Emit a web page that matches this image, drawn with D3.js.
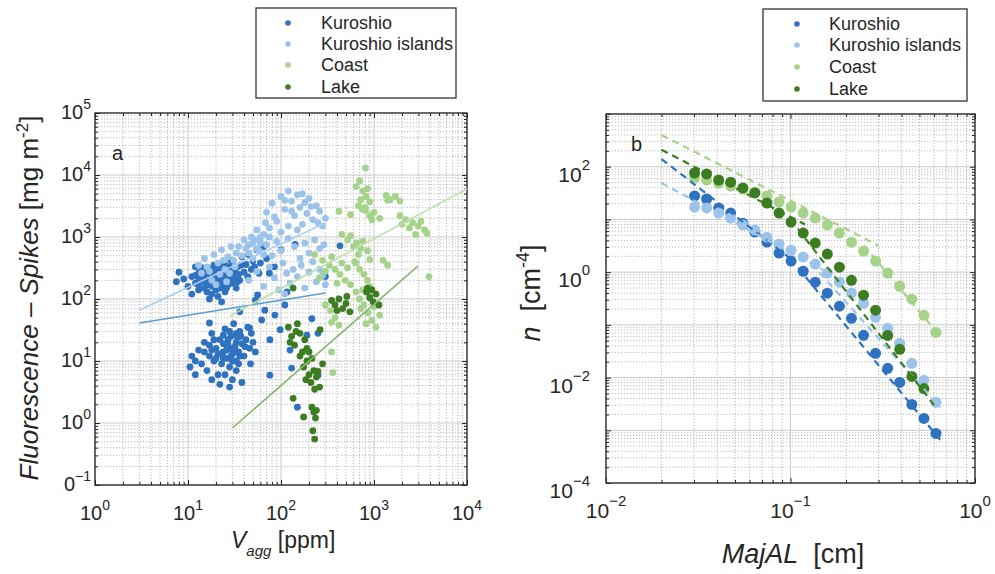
<!DOCTYPE html>
<html><head><meta charset="utf-8">
<script src="https://cdn.jsdelivr.net/npm/d3@7"></script>
<style>
body{margin:0;background:#fff;}
text{font-family:"Liberation Sans",Arial,Helvetica,sans-serif;fill:#262626;}
</style>
</head><body>
<svg id="chart" width="995" height="574"></svg>
<script>
// ---------------- data ----------------
const categories = ["Kuroshio", "Kuroshio islands", "Coast", "Lake"];
const seriesColors = ["#2f72c0", "#9cc4ea", "#a6d38a", "#3c7d22"];
const fitColorsA = ["#5a9ad6", "#a9cdee", "#bfe0a8", "#88b66c"];

// panel a : [Vagg ppm, Fluorescence - Spikes mg m-2]
const kuroshioA = [
 [11,230],[12,180],[13,260],[14,210],[15,150],[16,290],[17,200],[18,240],[19,170],[20,310],
 [21,220],[22,190],[23,270],[24,160],[25,230],[26,340],[27,200],[28,250],[30,180],[32,290],
 [14,320],[16,130],[18,120],[20,140],[22,260],[24,390],[26,150],[29,420],[31,240],[34,330],
 [36,200],[38,480],[40,270],[42,360],[45,520],[48,300],[50,410],[55,620],[60,380],[65,700],
 [9,210],[10,160],[8,270],[7.5,190],[11,120],[12,330],[13,140],[17,100],[19,350],[21,110],
 [23,90],[25,130],[27,320],[33,150],[35,250],[37,350],[44,230],[52,330],[58,260],[70,450],
 [15,260],[16,190],[17,280],[18,160],[19,250],[20,200],[21,270],[22,150],[23,210],[24,280],
 [15,220],[13,200],[14,260],[16,240],[18,300],[20,230],[22,320],[25,180],[28,300],[30,350],
 [14,230],[15,190],[16,210],[17,240],[18,210],[19,190],[20,260],[21,200],[22,230],[23,180],
 [24,240],[25,260],[26,220],[27,170],[28,210],[29,190],[30,250],[32,210],[34,190],[12,240],
 [13,170],[19,290],[21,300],[23,250],[25,200],[27,260],[29,320],[31,280],[16,170],[18,270],
 [75,260],[85,330],[100,620],[142,760],[431,720],[300,230],[116,130],
 [10.5,8],[11,12],[12,6],[13,15],[14,9],[15,20],[16,7],[17,12],[18,28],[19,10],
 [20,16],[21,6],[22,22],[23,9],[24,14],[25,33],[26,11],[27,18],[28,8],[29,25],
 [30,13],[31,40],[32,17],[33,10],[34,24],[35,14],[36,30],[38,19],[40,12],[42,22],
 [44,35],[46,16],[48,28],[50,20],[53,14],[47,9],[41,17],[18,5],[22,4.2],[25,6],
 [28,3.8],[30,5],[33,7],[38,4.5],[15,14],[17,18],[20,11],[22,13],[24,19],[26,15],
 [27,22],[29,12],[31,16],[33,20],[35,9],[37,25],[17,41],[12,10],[24,26],[28,30],
 [18,15],[21,13],[24,11],[26,18],[28,16],[30,10],[32,14],[36,12],[19,22],[33,28],
 [36,62],[53,96],[67,66],[86,55],[98,32],[76,22],[46,34],[62,46],[110,80],[56,116],
 [76,5.9],[215,48],[250,28],[190,26],[125,15],[130,7.7],[150,1.8],[250,5.9]
];
const islandsA = [
 [70,2500],[80,3500],[90,1800],[100,4500],[110,2800],[120,5500],[130,3800],[140,2200],[150,4800],[160,3000],
 [170,1600],[180,3600],[190,2400],[200,4200],[220,1900],[240,3200],[260,2600],[280,1500],[300,2000],[150,1300],
 [120,1500],[100,1200],[85,2100],[75,1400],[65,1100],[130,2600],[170,5000],[210,3100],[250,1700],[110,3900],
 [35,700],[40,900],[45,550],[50,800],[55,650],[60,1000],[70,750],[80,500],[90,850],[100,600],
 [120,950],[140,700],[160,450],[180,800],[200,550],[230,900],[260,650],[290,750],[50,450],[65,520],
 [45,200],[55,280],[65,160],[75,330],[85,220],[95,140],[105,380],[115,260],[125,180],[135,300],
 [150,230],[165,350],[180,150],[200,270],[220,400],[240,190],[260,300],[280,240],[300,170],[110,120],
 [13,350],[15,450],[17,280],[19,520],[21,380],[23,620],[25,300],[27,480],[29,700],[31,420],
 [18,200],[22,250],[26,190],[33,550],[14,260],[16,330],[20,170],[24,420],[28,260],[32,330],
 [38,500],[42,650],[48,1000],[55,1300],[60,800],[68,1700],[75,1000],[58,600],[52,900],[45,750]
];
const coastA = [
 [810,13000],[640,6500],[700,8000],[760,5500],[820,4500],[900,3700],[680,3200],[750,2800],[850,6000],[720,4000],
 [800,3000],[420,2600],[560,2300],[810,2700],[900,2200],[1000,2500],[1150,2000],[950,1900],
 [1350,4700],[1500,4000],[1700,4500],[1900,3800],[1400,3900],
 [1900,2200],[2200,1900],[2600,1700],[3000,1500],[3500,1300],[2400,1400],[2800,1100],[3200,1800],[3700,1150],[2000,1600],
 [450,1100],[520,900],[600,700],[680,520],[760,850],[850,600],[900,430],[560,1050],[650,800],[720,650],
 [230,520],[280,420],[330,350],[380,300],[430,250],[490,200],[560,170],[620,400],[350,480],[300,280],
 [260,220],[400,180],[520,320],[450,380],[640,380],[700,300],[780,250],[850,200],[900,160],[760,140],
 [3900,230],[300,80],[340,65],[380,50],[420,38],[350,42],
 [640,130],[700,100],[780,80],[860,60],[950,45],[1050,35],[1150,55],[720,70],[820,40],[900,110],[1000,75],
 [350,14],[360,6.5],[1250,420],[1400,350]
];
const lakeA = [
 [120,35],[130,25],[140,18],[150,40],[160,28],[170,14],[180,22],[190,16],[125,20],[145,30],
 [160,12],[175,8],[190,10],[200,6],[210,4.5],[225,7],[240,5.5],[260,3.8],[280,9],[185,5],
 [215,11],[250,6.8],[200,14],[230,3.5],
 [350,95],[380,80],[420,100],[460,70],[500,85],[550,62],[400,65],
 [830,130],[900,105],[980,90],[1050,120],[1130,80],[950,140],
 [215,1.8],[225,1.5],[235,1.2],[220,0.75],[230,0.55],[240,1.6],[175,1.25],[135,2.5],
 [850,150],[510,110],[135,150],[263,32]
];
const scatterA = [kuroshioA, islandsA, coastA, lakeA];

// panel a fitted lines (two end points each)
const fitsA = [
 [[3.0,41],[300,125]],
 [[3.0,66],[300,1690]],
 [[28,53],[10000,6000]],
 [[30,0.83],[2960,340]]
];

// panel b : MajAL [cm] and n [cm-4]
const majAL = [0.0302,0.0351,0.0408,0.0474,0.0552,0.0641,0.0745,0.0867,0.1007,0.1172,0.1362,
               0.1584,0.1841,0.2140,0.2488,0.2892,0.3363,0.3910,0.4546,0.5285,0.6144];
const nKuroshio = [27.9,24.4,16.5,13.2,8.5,5.76,3.72,2.30,1.62,1.04,0.645,0.399,0.226,0.133,0.0634,
                   0.0289,0.0150,0.0081,0.0031,0.00168,0.00087];
const nIslands = [17.2,16.5,13.2,10.6,7.8,6.3,4.6,3.4,2.6,1.93,1.42,0.96,0.645,0.40,0.257,0.139,
                  0.086,0.0447,0.0186,0.00885,0.0034];
const nCoast = [61,56,49,43,37.8,33,27.9,21.4,17.2,13.2,10.6,7.8,5.5,3.7,2.5,1.62,0.96,0.54,0.307,0.152,0.072];
const nLake = [76,73,56,51,39.5,31.8,20.5,13.2,8.9,5.5,3.56,2.2,1.24,0.70,0.365,0.19,0.063,0.0344,0.0105,0.0062,null];
const seriesB = [nKuroshio, nIslands, nCoast, nLake];

// panel b fitted dashed segments
const fitsB = [
 [[[0.02,140],[0.1,1.8]], [[0.1,1.8],[0.65,0.00065]]],
 [[[0.02,49],[0.15,1.1]], [[0.13,1.45],[0.65,0.0027]]],
 [[[0.02,400],[0.3,3.2]], [[0.25,3.2],[0.65,0.06]]],
 [[[0.02,210],[0.12,8]], [[0.1,10],[0.6,0.003]]]
];

const ticksA_x = [1,10,100,1000,10000];
const ticksA_y = [0.1,1,10,100,1000,10000,100000];
const ticksA_xExp = ["0","1","2","3","4"];
const ticksA_yExp = ["\u22121","0","1","2","3","4","5"];
const ticksB_x = [0.01,0.1,1];
const ticksB_xExp = ["\u22122","\u22121","0"];
const ticksB_y = [1e-4,1e-2,1,100];
const ticksB_yExp = ["\u22124","\u22122","0","2"];

// ---------------- drawing ----------------
const svg = d3.select("#chart");

function minorTicks(lo, hi) {
  const out = [];
  for (let e = Math.floor(Math.log10(lo)); e < Math.ceil(Math.log10(hi)); e++) {
    for (let k = 2; k <= 9; k++) { const v = k * Math.pow(10, e); if (v > lo && v < hi) out.push(v); }
  }
  return out;
}

function panel(opt) {
  const g = svg.append("g");
  const {x, y} = opt;
  const [x0, x1] = x.range(), [y0, y1] = y.range();
  const xd = x.domain(), yd = y.domain();
  const xMinor = minorTicks(xd[0], xd[1]), yMinor = minorTicks(yd[0], yd[1]);
  const isDec = v => Math.abs(Math.log10(v) - Math.round(Math.log10(v))) < 1e-9;
  const xMajor = x.ticks().filter(isDec);
  const yMajor = y.ticks().filter(isDec);

  const grid = g.append("g");
  grid.selectAll(".gxm").data(xMinor).join("line")
    .attr("x1", d => x(d)).attr("x2", d => x(d)).attr("y1", y0).attr("y2", y1)
    .attr("stroke", "#a8a8a8").attr("stroke-width", 0.8).attr("stroke-dasharray", "1.2,1.8");
  grid.selectAll(".gym").data(yMinor).join("line")
    .attr("y1", d => y(d)).attr("y2", d => y(d)).attr("x1", x0).attr("x2", x1)
    .attr("stroke", "#a8a8a8").attr("stroke-width", 0.8).attr("stroke-dasharray", "1.2,1.8");
  grid.selectAll(".gxM").data(xMajor).join("line")
    .attr("x1", d => x(d)).attr("x2", d => x(d)).attr("y1", y0).attr("y2", y1)
    .attr("stroke", "#c4c4c4").attr("stroke-width", 0.9);
  grid.selectAll(".gyM").data(yMajor).join("line")
    .attr("y1", d => y(d)).attr("y2", d => y(d)).attr("x1", x0).attr("x2", x1)
    .attr("stroke", "#c4c4c4").attr("stroke-width", 0.9);

  // axes with inward ticks on all four sides
  const mk = (axisFn, scale, vals, len) => axisFn(scale).tickValues(vals).tickSize(-len).tickFormat("").tickSizeOuter(0);
  const axes = g.append("g").attr("class", "axes");
  [[d3.axisBottom, `translate(0,${y0})`, x], [d3.axisTop, `translate(0,${y1})`, x]].forEach(([f, t, s]) => {
    axes.append("g").attr("transform", t).call(mk(f, s, xMajor, 5));
    axes.append("g").attr("transform", t).call(mk(f, s, xMinor, 3));
  });
  [[d3.axisLeft, `translate(${x0},0)`, y], [d3.axisRight, `translate(${x1},0)`, y]].forEach(([f, t, s]) => {
    axes.append("g").attr("transform", t).call(mk(f, s, yMajor, 5));
    axes.append("g").attr("transform", t).call(mk(f, s, yMinor, 3));
  });
  axes.selectAll(".domain").remove();
  axes.selectAll("line").attr("stroke", "#262626").attr("stroke-width", 1);
  g.append("rect").attr("x", x0).attr("y", y1).attr("width", x1 - x0).attr("height", y0 - y1)
    .attr("fill", "none").attr("stroke", "#262626").attr("stroke-width", 1.3);
  return g;
}

function expLabel(g, px, py, exp, anchor, size, supSize, supDy) {
  const t = g.append("text").attr("x", px).attr("y", py).attr("text-anchor", anchor)
    .style("font-size", size + "px");
  t.append("tspan").text("10");
  t.append("tspan").attr("dy", supDy).style("font-size", supSize + "px").text(exp);
  return t;
}

// ---------- panel a ----------
const xA = d3.scaleLog().domain([1, 1e4]).range([95, 467]);
const yA = d3.scaleLog().domain([0.1, 1e5]).range([485, 113]);
const gA = panel({x: xA, y: yA});

svg.append("defs").html(
  '<clipPath id="clipA"><rect x="95" y="113" width="372" height="372"/></clipPath>' +
  '<clipPath id="clipB"><rect x="606" y="114" width="369" height="369"/></clipPath>' +
  '<clipPath id="clipLbl"><rect x="63" y="0" width="60" height="574"/></clipPath>');

const plotA = svg.append("g").attr("clip-path", "url(#clipA)");
scatterA.forEach((pts, i) => {
  plotA.append("g").selectAll("circle").data(pts).join("circle")
    .attr("cx", d => xA(d[0])).attr("cy", d => yA(d[1])).attr("r", 3.4)
    .attr("fill", seriesColors[i]);
});
const lineA = d3.line().x(d => xA(d[0])).y(d => yA(d[1]));
fitsA.forEach((f, i) => {
  plotA.append("path").attr("d", lineA(f)).attr("fill", "none")
    .attr("stroke", fitColorsA[i]).attr("stroke-width", 1.6);
});

ticksA_x.forEach((v, i) => expLabel(svg, xA(v), 520, ticksA_xExp[i], "middle", 20, 14, -10));
ticksA_y.forEach((v, i) => {
  const t = expLabel(svg, 91, yA(v) + 6, ticksA_yExp[i], "end", 20, 14, -10);
  if (i === 0) t.attr("clip-path", "url(#clipLbl)");
});
svg.append("text").attr("x", 112).attr("y", 160).style("font-size", "20px").text("a");

// x label
const xlabA = svg.append("text").attr("x", 231).attr("y", 548).style("font-size", "23px");
xlabA.append("tspan").style("font-style", "italic").text("V");
xlabA.append("tspan").attr("dy", 8).style("font-style", "italic").style("font-size", "15px").text("agg");
xlabA.append("tspan").attr("dy", -8).text(" [ppm]");
// y label
const ylabA = svg.append("text").attr("transform", "translate(38,298) rotate(-90)")
  .attr("text-anchor", "middle").style("font-size", "26px");
ylabA.append("tspan").style("font-style", "italic").text("Fluorescence \u2013 Spikes");
ylabA.append("tspan").text(" [mg m");
ylabA.append("tspan").attr("dy", -10).style("font-size", "17px").text("-2");
ylabA.append("tspan").attr("dy", 10).text("]");

// ---------- panel b ----------
const xB = d3.scaleLog().domain([0.01, 1]).range([606, 975]);
const yB = d3.scaleLog().domain([1e-4, 1e3]).range([483, 114]);
const gB = panel({x: xB, y: yB});

const plotB = svg.append("g").attr("clip-path", "url(#clipB)");
seriesB.forEach((vals, i) => {
  const pts = majAL.map((m, k) => [m, vals[k]]).filter(d => d[1] != null);
  plotB.append("g").selectAll("circle").data(pts).join("circle")
    .attr("cx", d => xB(d[0])).attr("cy", d => yB(d[1])).attr("r", 5.5)
    .attr("fill", seriesColors[i]);
});
const lineB = d3.line().x(d => xB(d[0])).y(d => yB(d[1]));
fitsB.forEach((segs, i) => {
  segs.forEach(s => {
    plotB.append("path").attr("d", lineB(s)).attr("fill", "none")
      .attr("stroke", seriesColors[i]).attr("stroke-width", 2.2).attr("stroke-dasharray", "7,5");
  });
});

ticksB_x.forEach((v, i) => expLabel(svg, xB(v), 518, ticksB_xExp[i], "middle", 21, 15, -12));
ticksB_y.forEach((v, i) => expLabel(svg, 590, yB(v) + 15, ticksB_yExp[i], "end", 21, 15, -12));
svg.append("text").attr("x", 631).attr("y", 151).style("font-size", "20px").text("b");

const xlabB = svg.append("text").attr("x", 793).attr("y", 563).attr("text-anchor", "middle").style("font-size", "27px");
xlabB.append("tspan").style("font-style", "italic").text("MajAL");
xlabB.append("tspan").text("\u00a0 [cm]");
const ylabB = svg.append("text").attr("transform", "translate(540,293) rotate(-90)")
  .attr("text-anchor", "middle").style("font-size", "27px");
ylabB.append("tspan").style("font-style", "italic").text("n");
ylabB.append("tspan").text("\u00a0 [cm");
ylabB.append("tspan").attr("dy", -11).style("font-size", "18px").text("-4");
ylabB.append("tspan").attr("dy", 11).text("]");

// ---------- legends ----------
function legend(bx, by, bw, bh, mx, tx, rows, fs) {
  const g = svg.append("g");
  g.append("rect").attr("x", bx).attr("y", by).attr("width", bw).attr("height", bh)
    .attr("fill", "#fff").attr("stroke", "#333").attr("stroke-width", 1.3);
  categories.forEach((c, i) => {
    g.append("circle").attr("cx", mx).attr("cy", rows[i]).attr("r", 2.8).attr("fill", seriesColors[i]);
    g.append("text").attr("x", tx).attr("y", rows[i] + 6).style("font-size", fs + "px").text(c);
  });
}
legend(256, 8, 200, 90, 288, 321, [23, 44, 65, 87], 18);
legend(763, 9, 204, 92, 797, 829, [24, 45, 67, 89], 18);
</script>
</body></html>
